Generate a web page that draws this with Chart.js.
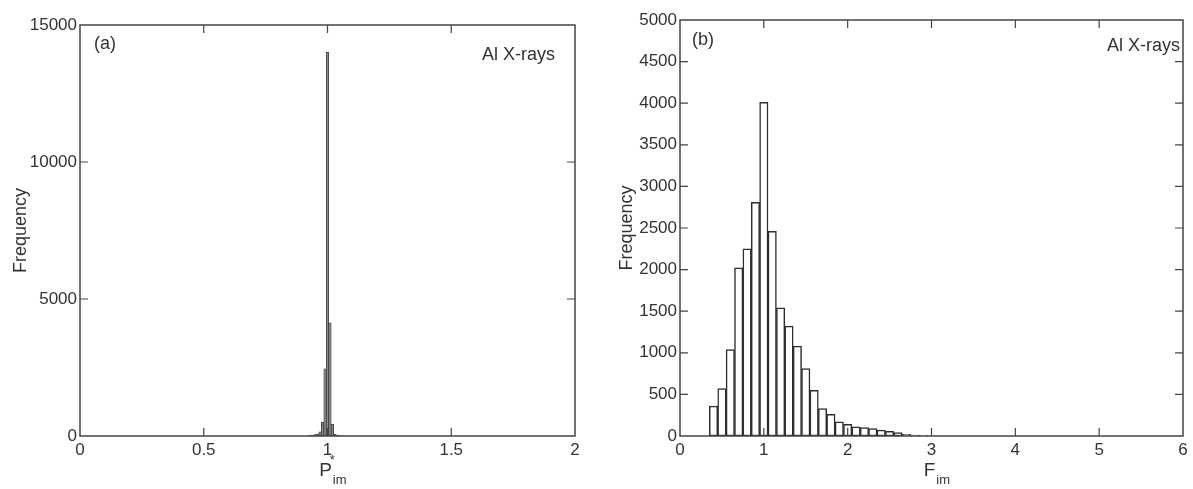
<!DOCTYPE html>
<html>
<head>
<meta charset="utf-8">
<script src="https://cdn.jsdelivr.net/npm/chart.js@4.4.1/dist/chart.umd.min.js"></script>
<style>
  html, body { margin: 0; padding: 0; background: #fff; }
  #wrap { position: relative; width: 1193px; height: 489px; }
  .box { position: absolute; top: 0; height: 489px; }
</style>
</head>
<body>
<div id="wrap">
  <div class="box" style="left:0;width:600px"><canvas id="chartA"></canvas></div>
  <div class="box" style="left:600px;width:593px"><canvas id="chartB"></canvas></div>
</div>
<script>
// panel (a): normalised P*_im, bin width 0.01
const binsA = [0.92, 0.93, 0.94, 0.95, 0.96, 0.97, 0.98, 0.99, 1.00, 1.01, 1.02, 1.03, 1.04, 1.05, 1.06];
const countsA = [10, 20, 30, 50, 80, 150, 500, 2450, 14000, 4130, 430, 60, 30, 15, 5];
const yTicksA = [0, 5000, 10000, 15000];
const xTicksA = [0, 0.5, 1, 1.5, 2];

// panel (b): F_im, bin width 0.1
const binsB = [0.4, 0.5, 0.6, 0.7, 0.8, 0.9, 1.0, 1.1, 1.2, 1.3, 1.4, 1.5, 1.6, 1.7, 1.8,
               1.9, 2.0, 2.1, 2.2, 2.3, 2.4, 2.5, 2.6, 2.7, 2.8, 2.9];
const countsB = [360, 570, 1040, 2020, 2250, 2810, 4010, 2460, 1540, 1320, 1080, 810, 550, 330, 260,
                 170, 140, 110, 100, 90, 70, 55, 40, 20, 12, 8];
const yTicksB = [0, 500, 1000, 1500, 2000, 2500, 3000, 3500, 4000, 4500, 5000];
const xTicksB = [0, 1, 2, 3, 4, 5, 6];

const FONT = "'Liberation Sans', Arial, Helvetica, sans-serif";
const TEXT = "#333";
const LINE = "#444";

// frame with matlab-style inward ticks on all four sides
const framePlugin = {
  id: "frame",
  afterDatasetsDraw(chart) {
    const { ctx, chartArea: a, scales } = chart;
    ctx.save();
    ctx.strokeStyle = LINE;
    ctx.lineWidth = 1.5;
    ctx.strokeRect(a.left, a.top, a.right - a.left, a.bottom - a.top);
    ctx.lineWidth = 1.2;
    const len = 8;
    ctx.beginPath();
    scales.x.ticks.forEach(t => {
      const px = scales.x.getPixelForValue(t.value);
      if (px <= a.left + 1 || px >= a.right - 1) return;
      ctx.moveTo(px, a.bottom); ctx.lineTo(px, a.bottom - len);
      ctx.moveTo(px, a.top); ctx.lineTo(px, a.top + len);
    });
    scales.y.ticks.forEach(t => {
      const py = scales.y.getPixelForValue(t.value);
      if (py <= a.top + 1 || py >= a.bottom - 1) return;
      ctx.moveTo(a.left, py); ctx.lineTo(a.left + len, py);
      ctx.moveTo(a.right, py); ctx.lineTo(a.right - len, py);
    });
    ctx.stroke();
    ctx.restore();
  }
};

// panel letter, corner note and the x title with its super/subscripts
const labelPlugin = {
  id: "labels",
  afterDraw(chart, args, opts) {
    const { ctx, chartArea: a } = chart;
    ctx.save();
    ctx.fillStyle = TEXT;
    ctx.textBaseline = "alphabetic";
    ctx.font = "18px " + FONT;
    ctx.textAlign = "left";
    ctx.fillText(opts.letter, a.left + opts.letterDx, a.top + opts.letterDy);
    ctx.textAlign = "right";
    ctx.fillText("Al X-rays", a.right - opts.noteDx, a.top + opts.noteDy);

    const cx = (a.left + a.right) / 2;
    const base = a.bottom + 40;
    ctx.font = "19px " + FONT;
    const w = ctx.measureText(opts.main).width;
    ctx.textAlign = "left";
    const x0 = cx - w / 2 - 2;
    ctx.fillText(opts.main, x0, base);
    if (opts.sup) {
      ctx.font = "13px " + FONT;
      ctx.fillText(opts.sup, x0 + w - 2, base - 12);
    }
    ctx.font = "13px " + FONT;
    ctx.fillText(opts.sub, x0 + w + 1, base + 8);
    ctx.restore();
  }
};

function makeHist(id, bins, counts, cfg) {
  return new Chart(document.getElementById(id), {
    type: "bar",
    data: {
      datasets: [{
        data: bins.map((b, i) => ({ x: b, y: counts[i] })),
        backgroundColor: cfg.fill,
        borderColor: cfg.edge,
        borderWidth: cfg.edgeWidth,
        borderSkipped: false,
        barPercentage: 1,
        categoryPercentage: 1
      }]
    },
    options: {
      responsive: true,
      maintainAspectRatio: false,
      animation: false,
      layout: { padding: cfg.padding },
      plugins: {
        legend: { display: false },
        tooltip: { enabled: false },
        labels: cfg.labels
      },
      scales: {
        x: {
          type: "linear",
          offset: false,
          min: cfg.xTicks[0],
          max: cfg.xTicks[cfg.xTicks.length - 1],
          afterBuildTicks: s => { s.ticks = cfg.xTicks.map(v => ({ value: v })); },
          afterFit: s => { s.height = 53; },
          grid: { display: false, drawTicks: false },
          border: { display: false },
          ticks: {
            color: TEXT, font: { family: FONT, size: 17 }, padding: 4, maxRotation: 0,
            callback: v => String(v)
          }
        },
        y: {
          min: cfg.yTicks[0],
          max: cfg.yTicks[cfg.yTicks.length - 1],
          afterBuildTicks: s => { s.ticks = cfg.yTicks.map(v => ({ value: v })); },
          afterFit: s => { s.width = 80; },
          grid: { display: false, drawTicks: false },
          border: { display: false },
          ticks: {
            color: TEXT, font: { family: FONT, size: 17 }, padding: 3,
            callback: v => String(v)
          },
          title: {
            display: true,
            text: "Frequency",
            color: TEXT,
            font: { family: FONT, size: 18 },
            padding: { top: cfg.titlePad, bottom: 0 }
          }
        }
      }
    },
    plugins: [framePlugin, labelPlugin]
  });
}

makeHist("chartA", binsA, countsA, {
  xTicks: xTicksA, yTicks: yTicksA,
  fill: "#8a8a8a", edge: "#3a3a3a", edgeWidth: 0.8,
  padding: { left: 0, right: 25, top: 25, bottom: 0 },
  titlePad: 10,
  labels: { letter: "(a)", letterDx: 14, letterDy: 24, noteDx: 20, noteDy: 35, main: "P", sup: "*", sub: "im" }
});

makeHist("chartB", binsB, countsB, {
  xTicks: xTicksB, yTicks: yTicksB,
  fill: "#ffffff", edge: "#2e2e2e", edgeWidth: 1.5,
  padding: { left: 0, right: 10, top: 20, bottom: 0 },
  titlePad: 16,
  labels: { letter: "(b)", letterDx: 12, letterDy: 25, noteDx: 3, noteDy: 31, main: "F", sub: "im" }
});
</script>
</body>
</html>
